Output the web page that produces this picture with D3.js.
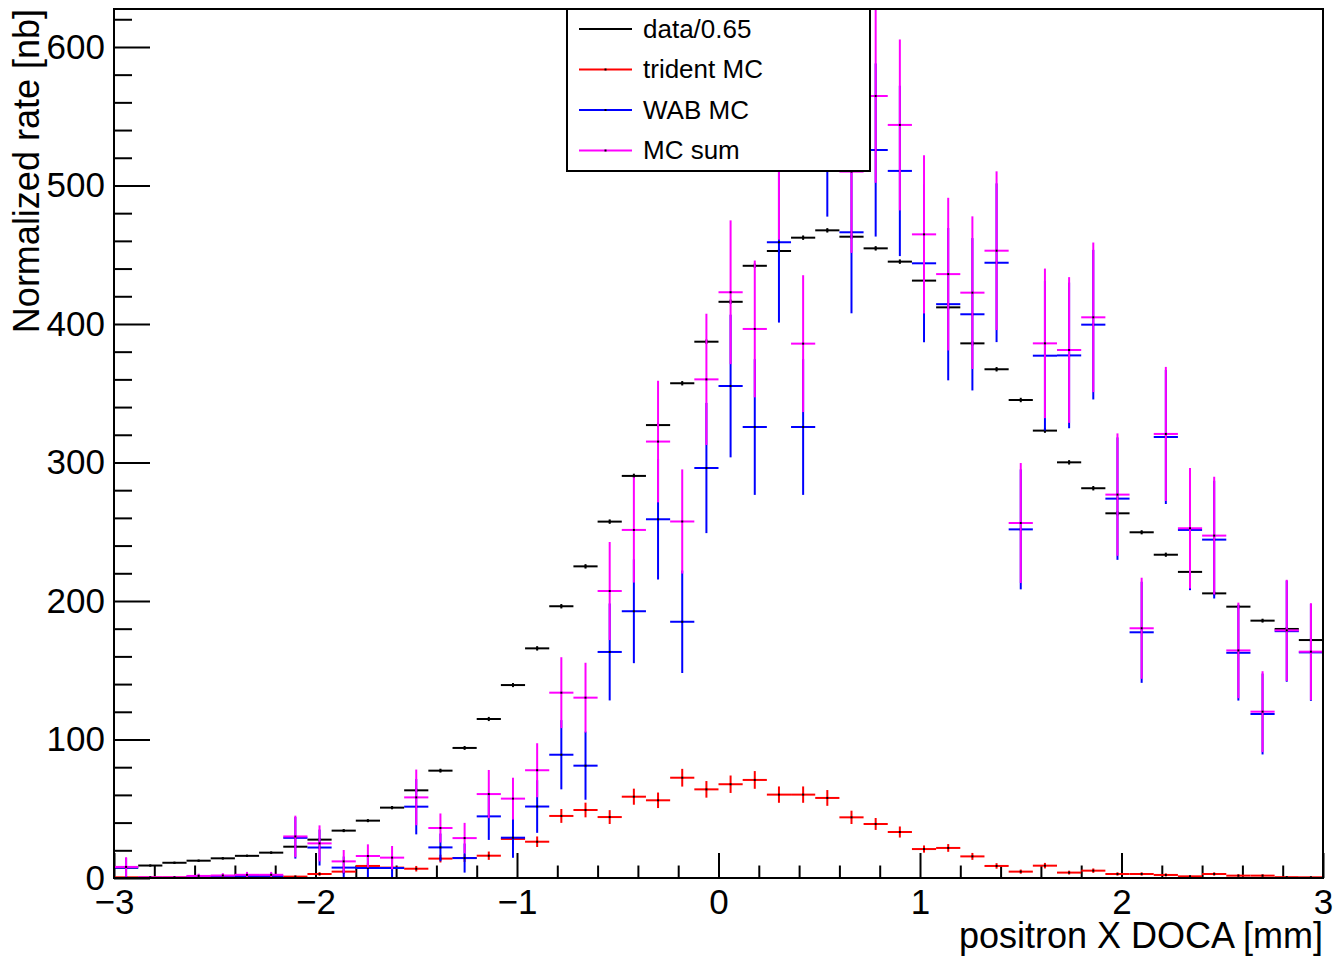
<!DOCTYPE html>
<html>
<head>
<meta charset="utf-8">
<script src="https://cdn.jsdelivr.net/npm/d3@7"></script>
<style>
  html, body { margin: 0; padding: 0; background: #fff; }
  svg { display: block; }
  text { font-family: "Liberation Sans", Arial, Helvetica, sans-serif; fill: #000; }
</style>
</head>
<body>
<svg id="chart" width="1335" height="958"></svg>
<script>
// ---- categories (bin centers, bin width 0.12 mm) ----
const binCenters = [-2.94,-2.82,-2.70,-2.58,-2.46,-2.34,-2.22,-2.10,-1.98,-1.86,
  -1.74,-1.62,-1.50,-1.38,-1.26,-1.14,-1.02,-0.90,-0.78,-0.66,
  -0.54,-0.42,-0.30,-0.18,-0.06,0.06,0.18,0.30,0.42,0.54,
  0.66,0.78,0.90,1.02,1.14,1.26,1.38,1.50,1.62,1.74,
  1.86,1.98,2.10,2.22,2.34,2.46,2.58,2.70,2.82,2.94];
const binWidth = 0.12;

// ---- data/0.65 ----
const dataVals = [7.5,9,11,12.5,14.2,16,18.3,22.6,27.7,34.2,
  41.4,50.8,63.3,77.5,93.9,114.8,139.3,165.8,196.2,225,
  257.3,290.3,327,357.2,387.2,416,442,452.7,462.3,467.6,
  463,454.6,445,431.3,412,386,367.3,345.1,323,300.1,
  281.4,263.3,249.6,233.4,221,205.5,195.9,185.8,179.8,171.8];
const dataErr = [0.6,0.6,0.7,0.7,0.8,0.8,0.8,0.9,1,1.1,
  1.1,1.2,1.3,1.4,1.4,1.5,1.5,1.6,1.6,1.6,
  1.6,1.6,1.6,1.6,1.6,1.6,1.6,1.6,1.6,1.6,
  1.6,1.6,1.6,1.6,1.6,1.6,1.6,1.6,1.6,1.6,
  1.6,1.5,1.5,1.5,1.5,1.4,1.4,1.4,1.4,1.4];

// ---- trident MC ----
const tridentVals = [0.5,0.5,0.5,0.5,0.8,0.8,0.8,1,2.9,4.6,
  8.7,7.5,6.7,14,14.4,16.1,28.2,26.2,44.8,49.1,
  44,58.7,56.1,72.4,64,67.7,70.8,60.2,60.2,57.8,
  43.8,39,33.2,20.9,21.7,15.6,8.7,4.6,8.9,3.9,
  5.3,2.9,2.9,2.2,1.2,2.9,1.7,1.7,0.6,0.5];
const tridentErr = [0.6,0.6,0.6,0.6,0.7,0.7,0.7,0.8,1.3,1.6,
  2.2,2.1,2,2.8,2.8,3,3.9,3.8,5,5.3,
  5,5.8,5.6,6.4,6,6.3,6.4,5.9,5.9,5.7,
  4.8,4.3,4,2.6,2.8,2.5,2,1.5,2,1.4,
  1.6,1.2,1.2,1.1,0.9,1.2,1,1,0.6,0.5];

// ---- WAB MC ----
const wabVals = [7.5,0,0,1,1,1.5,1.5,29,22,7.5,
  7.2,7.2,51.5,22.1,14.4,44.5,29.1,51.6,89,81.1,
  163.2,192.6,259,185,296,355.2,325.6,459,325.6,538,
  466.2,525.6,510.5,443.8,414.3,407,444.2,251.7,377.1,377.3,
  399.5,273.9,177.4,318.4,251.3,244.3,162.6,118.4,178.2,162.9];
const wabErr = [7,0,0,1.5,1.5,2,2,15,13,8,
  8,8,20,10,10.5,17,14.5,19,25,24.6,
  35,37.5,43.5,37,47,51.5,49,58,49,60.5,
  58.5,62.5,61.5,57,55,55,57.3,43.3,54,52.6,
  54,44.2,36.5,48.4,43.5,42.5,34.5,29.2,36.5,35];

// ---- MC sum ----
const sumVals = [8,0.5,0.5,1.5,1.8,2.3,2.3,30,25,12,
  15.9,14.7,58.2,36.1,28.8,60.6,57.3,77.8,133.8,130.2,
  207.2,251.3,315.1,257.4,360,422.9,396.4,519.2,385.8,595.8,
  510,564.6,543.7,464.7,436,422.6,452.9,256.3,386,381.2,
  404.8,276.8,180.3,320.6,252.5,247.2,164.3,120.1,178.8,163.4];
const sumErr = [7,0.7,0.7,1.6,1.7,2.1,2.1,15,13,8.2,
  8.4,8.4,20.1,10.5,11,17.4,15.1,19.5,25.6,25.2,
  35.4,38,43.9,37.6,47.4,51.9,49.4,58.3,49.4,60.8,
  58.7,62.7,61.7,57.1,55.1,55.1,57.3,43.3,54,52.6,
  54,44.2,36.5,48.4,43.5,42.5,34.5,29.2,36.5,35];

// ---- axes / labels ----
const xMajorTicks = [-3,-2,-1,0,1,2,3];
const xMinorTicks = [-2.8,-2.6,-2.4,-2.2,-1.8,-1.6,-1.4,-1.2,-0.8,-0.6,-0.4,-0.2,
  0.2,0.4,0.6,0.8,1.2,1.4,1.6,1.8,2.2,2.4,2.6,2.8];
const yMajorTicks = [0,100,200,300,400,500,600];
const yMinorTicks = [20,40,60,80,120,140,160,180,220,240,260,280,320,340,360,380,
  420,440,460,480,520,540,560,580,620];
const xTitle = "positron X DOCA [mm]";
const yTitle = "Normalized rate [nb]";
const seriesNames = ["data/0.65","trident MC","WAB MC","MC sum"];
const seriesColors = ["#000000","#ff0000","#0000ff","#ff00ff"];

// ---- layout ----
const frame = {left: 114, right: 1323, top: 9, bottom: 878};
const svg = d3.select("#chart");
svg.append("rect").attr("width",1335).attr("height",958).attr("fill","#fff");

const x = d3.scaleLinear().domain([-3,3]).range([frame.left, frame.right]);
const y = d3.scaleLinear().domain([0, 627.4]).range([frame.bottom, frame.top]);

svg.append("defs").append("clipPath").attr("id","plotclip")
  .append("rect").attr("x",frame.left).attr("y",frame.top)
  .attr("width",frame.right-frame.left).attr("height",frame.bottom-frame.top);

// axes
const fmt = d3.format("");
const gx = svg.append("g").attr("transform",`translate(0,${frame.bottom})`)
  .call(d3.axisBottom(x).tickValues(xMajorTicks).tickSize(-25).tickPadding(11).tickFormat(fmt));
const gxm = svg.append("g").attr("transform",`translate(0,${frame.bottom})`)
  .call(d3.axisBottom(x).tickValues(xMinorTicks).tickSize(-12.5).tickFormat(""));
const gy = svg.append("g").attr("transform",`translate(${frame.left},0)`)
  .call(d3.axisLeft(y).tickValues(yMajorTicks).tickSize(-36).tickPadding(9).tickFormat(fmt));
const gym = svg.append("g").attr("transform",`translate(${frame.left},0)`)
  .call(d3.axisLeft(y).tickValues(yMinorTicks).tickSize(-18).tickFormat(""));
[gx,gxm,gy,gym].forEach(g => {
  g.select(".domain").remove();
  g.selectAll(".tick line").attr("stroke","#000").attr("stroke-width",2);
  g.selectAll(".tick text").attr("font-size",35).attr("font-family","Liberation Sans, Arial, sans-serif").attr("fill","#000");
});

// histograms
const plot = svg.append("g").attr("clip-path","url(#plotclip)");
function drawHist(vals, errs, color) {
  const g = plot.append("g");
  const bins = binCenters.map((c,i) => ({c, v: vals[i], e: errs[i]}));
  g.selectAll("line.h").data(bins).enter().append("line")
    .attr("x1", d => x(d.c - binWidth/2)).attr("x2", d => x(d.c + binWidth/2))
    .attr("y1", d => y(d.v)).attr("y2", d => y(d.v))
    .attr("stroke", color).attr("stroke-width", 2);
  g.selectAll("line.v").data(bins.filter(d => d.e > 0)).enter().append("line")
    .attr("x1", d => x(d.c)).attr("x2", d => x(d.c))
    .attr("y1", d => y(d.v - d.e)).attr("y2", d => y(d.v + d.e))
    .attr("stroke", color).attr("stroke-width", 2);
  g.selectAll("rect.m").data(bins).enter().append("rect")
    .attr("x", d => x(d.c) - 1).attr("y", d => y(d.v) - 1)
    .attr("width", 2).attr("height", 2).attr("fill", "#000");
}
drawHist(dataVals, dataErr, seriesColors[0]);
drawHist(tridentVals, tridentErr, seriesColors[1]);
drawHist(wabVals, wabErr, seriesColors[2]);
drawHist(sumVals, sumErr, seriesColors[3]);

// frame
svg.append("rect").attr("x",frame.left).attr("y",frame.top)
  .attr("width",frame.right-frame.left).attr("height",frame.bottom-frame.top)
  .attr("fill","none").attr("stroke","#000").attr("stroke-width",2);

// axis titles
svg.append("text").attr("x",frame.right).attr("y",948).attr("text-anchor","end")
  .attr("font-size",36).text(xTitle);
svg.append("text").attr("transform",`translate(39,${frame.top}) rotate(-90)`)
  .attr("text-anchor","end").attr("font-size",36).text(yTitle);

// legend
const leg = svg.append("g");
leg.append("rect").attr("x",567).attr("y",9).attr("width",303).attr("height",162)
  .attr("fill","#fff").attr("stroke","#000").attr("stroke-width",2);
seriesNames.forEach((name,i) => {
  const ly = 29 + i*40.5;
  leg.append("line").attr("x1",579).attr("x2",632).attr("y1",ly).attr("y2",ly)
    .attr("stroke",seriesColors[i]).attr("stroke-width",2);
  leg.append("rect").attr("x",604.5).attr("y",ly-1).attr("width",2).attr("height",2).attr("fill","#000");
  leg.append("text").attr("x",643).attr("y",ly+8.5).attr("font-size",26).text(name);
});
</script>
</body>
</html>
